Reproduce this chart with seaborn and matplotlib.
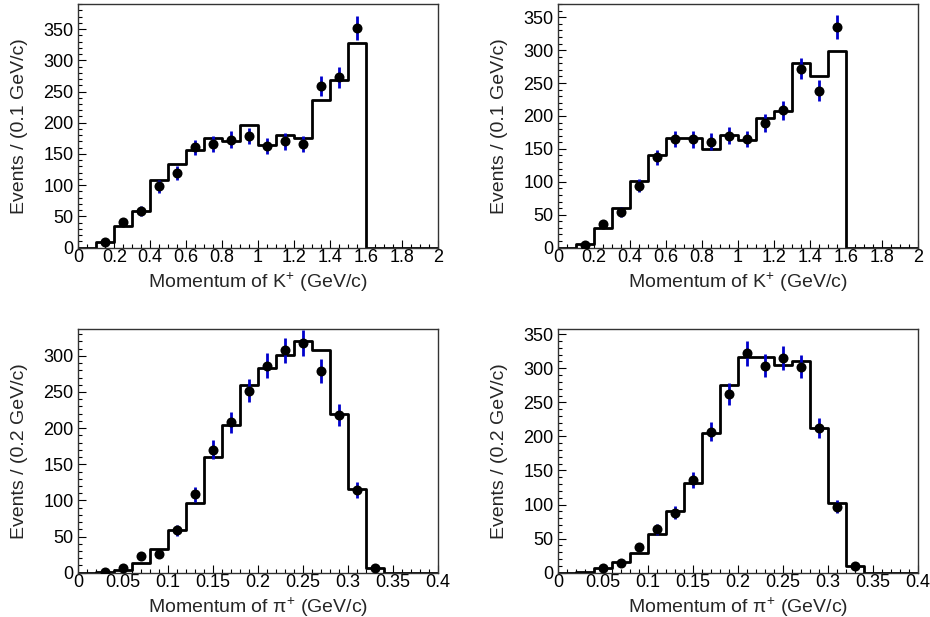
import numpy as np
import pandas as pd
import matplotlib
matplotlib.use('Agg')
import matplotlib.pyplot as plt
import seaborn as sns
from matplotlib.ticker import MultipleLocator, FuncFormatter

# bin edges
k_edges = np.round(np.arange(0, 2.0001, 0.1), 3)
pi_edges = np.round(np.arange(0, 0.4001, 0.02), 3)

# K+ momentum, histogram contents per 0.1 GeV/c bin
k_hist_left = [0, 9, 35, 58, 108, 134, 156, 176, 170, 196, 165, 180, 176, 237, 268, 328, 0, 0, 0, 0]
k_hist_right = [0, 6, 30, 60, 101, 141, 166, 166, 150, 171, 164, 197, 207, 281, 261, 298, 0, 0, 0, 0]

# K+ data points
k_pts_x = [0.15, 0.25, 0.35, 0.45, 0.55, 0.65, 0.75, 0.85, 0.95, 1.05, 1.15, 1.25, 1.35, 1.45, 1.55]
k_pts_left = [8.5, 40.5, 59, 98, 119.5, 160.5, 166, 173, 179, 163, 170, 166.5, 259, 272.5, 352]
k_pts_right = [4.5, 36.5, 54, 94, 137, 165, 164.5, 161, 170, 165, 190, 208.5, 272, 238.5, 335]

# pi+ momentum, histogram contents per 0.02 GeV/c bin
pi_hist_left = [0, 1, 4, 14, 33, 59, 96, 160.5, 204.5, 260, 283.5, 301.5, 321, 307.5, 220, 116, 7, 0, 0, 0]
pi_hist_right = [0, 1, 7, 15, 29, 57, 91, 131, 205, 275, 317, 316, 305, 310.5, 212.5, 102, 10, 0, 0, 0]

# pi+ data points
pi_pts_x_left = [0.03, 0.05, 0.07, 0.09, 0.11, 0.13, 0.15, 0.17, 0.19, 0.21, 0.23, 0.25, 0.27, 0.29, 0.31, 0.33]
pi_pts_left = [0.5, 7, 23.5, 25.5, 59, 108.5, 170, 208, 252, 286.5, 307.5, 317.5, 279, 218, 114.5, 6]
pi_pts_x_right = [0.05, 0.07, 0.09, 0.11, 0.13, 0.15, 0.17, 0.19, 0.21, 0.23, 0.25, 0.27, 0.29, 0.31, 0.33]
pi_pts_right = [7.3, 14, 37.7, 64, 88, 136.5, 207, 262, 322, 304, 315, 302.5, 212, 97, 10]

sns.set_theme(style='ticks')
plt.rcParams['font.family'] = ['Liberation Sans', 'DejaVu Sans']
plt.rcParams['mathtext.fontset'] = 'custom'
plt.rcParams['mathtext.rm'] = 'Liberation Sans'
plt.rcParams['mathtext.it'] = 'Liberation Sans'


def draw_panel(ax, edges, hist, px, py, ymax, xmajor, xminor, xlabel, ylabel):
    centers = (edges[:-1] + edges[1:]) / 2
    hdf = pd.DataFrame({'p': centers, 'n': hist})
    sns.histplot(data=hdf, x='p', weights='n', bins=[float(e) for e in edges],
                 element='step', fill=False, color='black', linewidth=2, ax=ax)
    py = np.asarray(py)
    ax.errorbar(px, py, yerr=np.sqrt(py), fmt='none', ecolor='#0000cc',
                elinewidth=2, capsize=0, zorder=3)
    sns.scatterplot(x=px, y=py, color='black', edgecolor='black', s=52,
                    linewidth=0, ax=ax, zorder=4)
    ax.set_xlim(edges[0], edges[-1])
    ax.set_ylim(0, ymax)
    ax.xaxis.set_major_locator(MultipleLocator(xmajor))
    ax.xaxis.set_minor_locator(MultipleLocator(xminor))
    ax.yaxis.set_major_locator(MultipleLocator(50))
    ax.yaxis.set_minor_locator(MultipleLocator(10))
    ax.xaxis.set_major_formatter(FuncFormatter(lambda v, p: '{:g}'.format(round(v, 3))))
    ax.tick_params(which='both', direction='in', top=False, right=False,
                   labelsize=13, color='black', labelcolor='black')
    ax.tick_params(which='major', length=6, width=0.8)
    ax.tick_params(which='minor', length=3, width=0.8)
    ax.tick_params(axis='x', which='major', pad=1)
    ax.tick_params(axis='y', which='major', pad=3.5)
    for s in ax.spines.values():
        s.set_linewidth(1)
        s.set_color('#333333')
    ax.set_xlabel(xlabel, fontsize=14, labelpad=3)
    ax.set_ylabel(ylabel, fontsize=14, labelpad=11)


fig = plt.figure(figsize=(9.3, 6.17), dpi=100)
w, h = 0.3865, 0.3948
ax1 = fig.add_axes([0.0842, 0.5986, w, h])
ax2 = fig.add_axes([0.6003, 0.5986, w, h])
ax3 = fig.add_axes([0.0842, 0.0718, w, h])
ax4 = fig.add_axes([0.6003, 0.0718, w, h])

draw_panel(ax1, k_edges, k_hist_left, k_pts_x, k_pts_left, 390, 0.2, 0.05,
           'Momentum of K$^{+}$ (GeV/c)', 'Events / (0.1 GeV/c)')
draw_panel(ax2, k_edges, k_hist_right, k_pts_x, k_pts_right, 370, 0.2, 0.05,
           'Momentum of K$^{+}$ (GeV/c)', 'Events / (0.1 GeV/c)')
draw_panel(ax3, pi_edges, pi_hist_left, pi_pts_x_left, pi_pts_left, 337, 0.05, 0.01,
           'Momentum of π$^{+}$ (GeV/c)', 'Events / (0.2 GeV/c)')
draw_panel(ax4, pi_edges, pi_hist_right, pi_pts_x_right, pi_pts_right, 357.5, 0.05, 0.01,
           'Momentum of π$^{+}$ (GeV/c)', 'Events / (0.2 GeV/c)')

fig.savefig('out.png', dpi=100, facecolor='white')
